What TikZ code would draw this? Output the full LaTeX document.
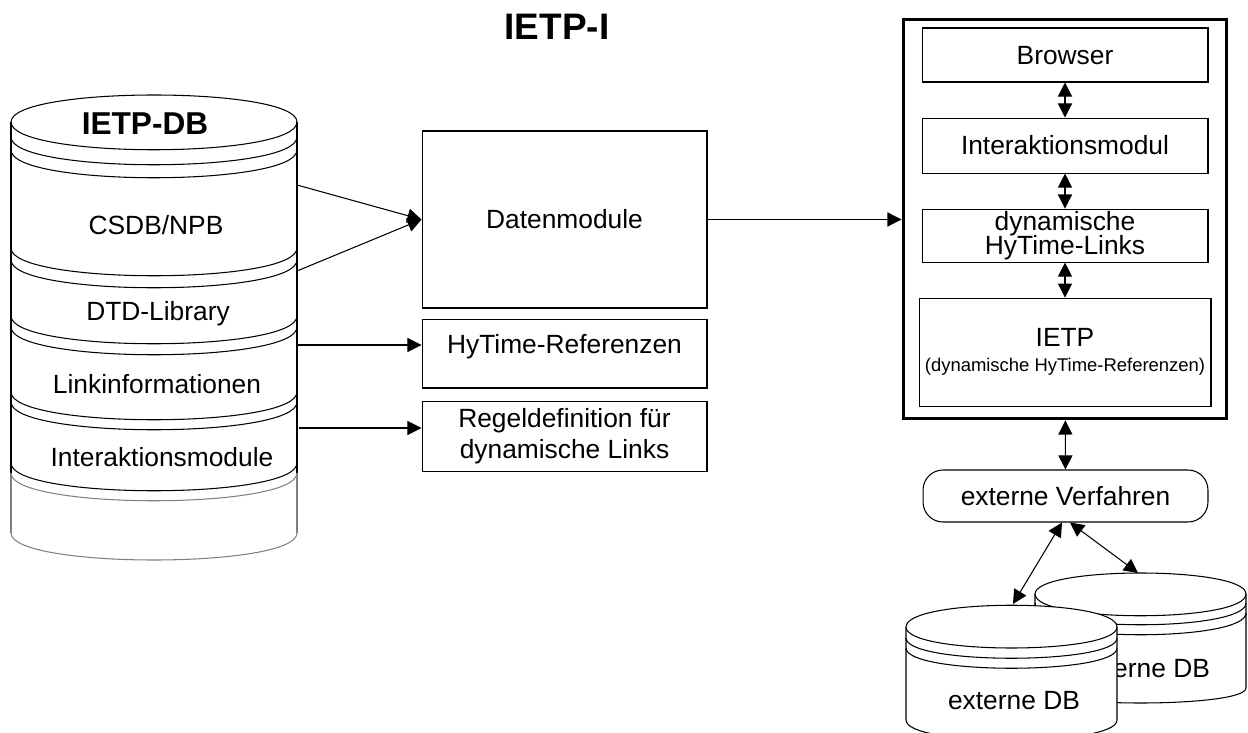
\documentclass[tikz,border=0pt]{standalone}
\usepackage{fontspec}
\setmainfont{Liberation Sans}
\usetikzlibrary{positioning,arrows.meta}

\begin{document}
\begin{tikzpicture}[
  x=0.02cm, y=-0.02cm,
  font=\fontsize{15}{18}\selectfont,
  line width=0.6pt,
  box/.style={draw, align=center, minimum width=5.7cm},
  single/.style={text height=12pt, text depth=1.5pt},
  arrow/.style={-{Triangle[length=8pt,width=8pt]}},
  dblarrow/.style={{Triangle[length=8pt,width=8pt]}-{Triangle[length=8pt,width=8pt]}}
]
\useasboundingbox (0,0) rectangle (1248,733);

\node[font=\fontsize{21}{25}\selectfont\bfseries] (title) at (557,27) {IETP-I};

% IETP-DB cylinder, drawn by hand
\draw (11,122) -- (11,473) (297,122) -- (297,473);
\draw (11,122) .. controls (11,86) and (297,86) .. (297,122);
\foreach \ys in {122,137,150,248,260,316,327,392,402,463}
  \draw (11,\ys) .. controls (11,\ys+37) and (297,\ys+37) .. (297,\ys);
\draw[black!50] (11,473) -- (11,533) (297,473) -- (297,533);
\draw[black!50] (11,473) .. controls (11,510) and (297,510) .. (297,473);
\draw[black!50] (11,533) .. controls (11,569) and (297,569) .. (297,533);

\node[font=\fontsize{18}{22}\selectfont\bfseries, text height=14pt, text depth=1pt] (ietpdb) at (145,123) {IETP-DB};
\node[single] (csdb) at (156,225) {CSDB/NPB};
\node[single] (dtd) at (158,311) {DTD-Library};
\node[single] (linkinfo) at (157,384) {Linkinformationen};
\node[single] (intmods) at (162,457) {Interaktionsmodule};

\coordinate (csdbout1) at (297,185);
\coordinate (csdbout2) at (297,271);
\coordinate (linkout) at (297,345);
\coordinate (ruleout) at (299,428);

% middle column
\node[box, single, minimum height=3.54cm] (daten) at (564.5,219.5) {Datenmodule};
\node[box, single, text depth=12.6pt, minimum height=1.38cm, below=0.2cm of daten] (hyref) {HyTime-Referenzen};
\node[box, minimum height=1.4cm, below=0.24cm of hyref] (regel) {Regeldefinition für\\dynamische Links};

\draw[arrow] (csdbout1) -- (daten.west);
\draw[arrow] (csdbout2) -- (daten.west);
\draw[arrow] (linkout) -- (linkout -| hyref.west);
\draw[arrow] (ruleout) -- (ruleout -| regel.west);

% IETP-I frame
\node[draw, line width=1.7pt, minimum width=6.48cm, minimum height=8cm] (ietpi) at (1065,219) {};
\node[box, single, minimum width=5.72cm, minimum height=1.08cm] (browser) at (1065,55) {Browser};
\node[box, single, minimum width=5.72cm, minimum height=1.1cm, below=0.7cm of browser] (intmod) {Interaktionsmodul};
\node[box, font=\fontsize{15}{14}\selectfont, inner ysep=0.5pt, minimum width=5.72cm, minimum height=1.06cm, below=0.7cm of intmod] (dynlinks) {dynamische\\HyTime-Links};
\node[box, minimum width=5.72cm, minimum height=2.16cm, below=0.7cm of dynlinks] (ietp) {IETP\\[-4pt]{\fontsize{10.5}{12}\selectfont(dynamische HyTime-Referenzen)}};

\draw[arrow] (daten.east) -- (daten.east -| ietpi.west);
\draw[dblarrow] (browser) -- (intmod);
\draw[dblarrow] (intmod) -- (dynlinks);
\draw[dblarrow] (dynlinks) -- (ietp);

\node[draw, single, rounded corners=0.4cm, minimum width=5.7cm, minimum height=1.04cm] (extv) at (1065.5,496) {externe Verfahren};
\draw[dblarrow] (ietpi) -- (extv);

% external databases, back one first
\draw[fill=white] (1035,594) .. controls (1035,566) and (1246,566) .. (1246,594) -- (1246,688)
  .. controls (1246,708) and (1035,708) .. (1035,688) -- cycle;
\foreach \ys in {594,603,613}
  \draw (1035,\ys) .. controls (1035,\ys+29) and (1246,\ys+29) .. (1246,\ys);
\node[single] (extdb2) at (1144,668) {externe DB};

\draw[fill=white] (906,627) .. controls (906,598) and (1117,598) .. (1117,627) -- (1117,720)
  .. controls (1117,747) and (906,747) .. (906,720) -- cycle;
\draw (906,627) .. controls (906,655) and (1117,655) .. (1117,627);
\foreach \ys in {638,648}
  \draw (906,\ys) .. controls (906,\ys+27) and (1117,\ys+27) .. (1117,\ys);
\node[single] (extdb1) at (1014,700) {externe DB};

\coordinate (db1top) at (1013,604);
\coordinate (db2top) at (1138,573);
\draw[dblarrow] ([xshift=-0.07cm]extv.south) -- (db1top);
\draw[dblarrow] ([xshift=0.09cm]extv.south) -- (db2top);
\end{tikzpicture}
\end{document}
